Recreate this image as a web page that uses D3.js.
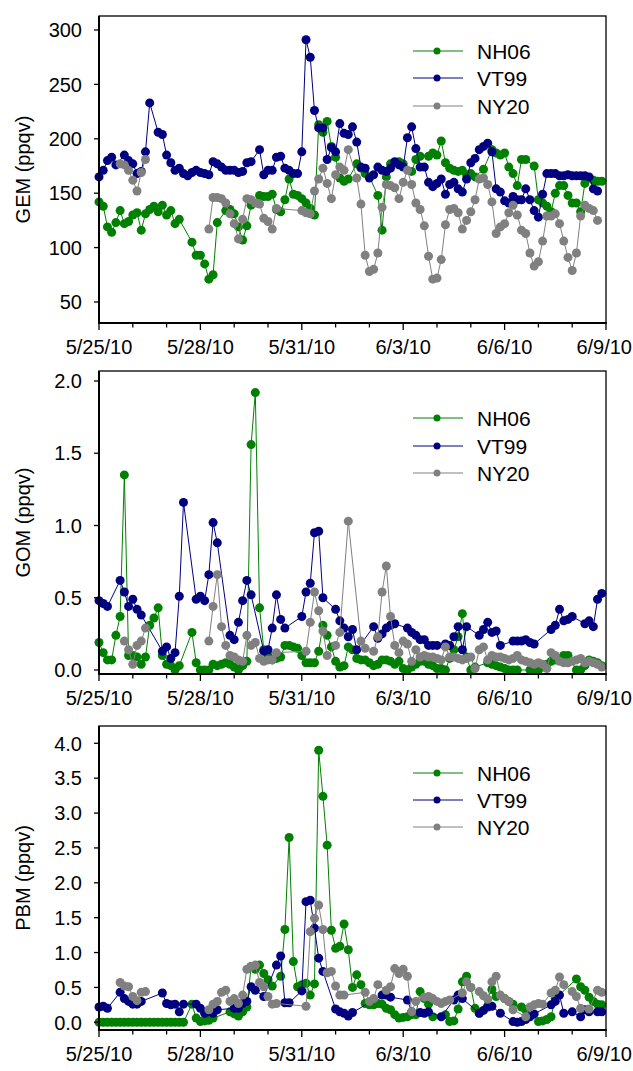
<!DOCTYPE html>
<html><head><meta charset="utf-8">
<script src="https://cdn.jsdelivr.net/npm/d3@7/dist/d3.min.js"></script>
<style>body{margin:0;background:#fff}svg{display:block}text{font-family:"Liberation Sans",Arial,sans-serif;fill:#000}</style>
</head><body>
<svg id="c" width="633" height="1071"></svg>
<script>
// ---------------- data ----------------
const seriesNames = ["NH06", "VT99", "NY20"];
const seriesColors = ["#008000", "#000080", "#808080"];
const startDate = new Date(2010, 4, 25);   // 5/25/10 00:00, first sample
const endDate = new Date(2010, 5, 9);      // 6/9/10
const stepHours = 3;                       // sampling interval of the series
const xTickDates = [new Date(2010,4,25), new Date(2010,4,28), new Date(2010,4,31), new Date(2010,5,3), new Date(2010,5,6), new Date(2010,5,9)];
const xTickLabels = ["5/25/10", "5/28/10", "5/31/10", "6/3/10", "6/6/10", "6/9/10"];
const gemTicks = [50, 100, 150, 200, 250, 300];
const gomTicks = [0.0, 0.5, 1.0, 1.5, 2.0];
const pbmTicks = [0.0, 0.5, 1.0, 1.5, 2.0, 2.5, 3.0, 3.5, 4.0];
const n = null;

const gemNH06 = [142,138,119,114,123,134,122,124,130,132, 116,131,135,138,133,139,130,134,122,126,
  n,n,105,93,93,85,71,75,123,n, 134,135,131,119,107,120,139,n,148,147,
  147,149,135,133,144,163,149,148,145,141, 136,130,213,206,216,193,183,164,161,163,
  n,177,173,168,165,n,148,116,165,177, 178,179,177,n,170,181,184,n,184,187,
  185,198,178,173,171,170,171,167,168,165, n,172,n,190,187,185,187,174,168,157,
  181,181,n,175,144,141,138,133,150,157, 157,148,141,141,133,159,n,162,161,161];
const gemVT99 = [165,171,180,183,176,n,185,180,177,168, 170,188,233,n,206,204,185,178,171,173,
  168,166,169,171,169,168,167,179,177,174, 171,171,171,169,170,178,179,n,190,167,
  171,171,183,184,173,171,168,168,188,291, 275,226,210,210,181,192,188,214,205,204,
  211,197,174,173,164,167,174,171,170,173, 179,176,174,201,211,191,174,174,160,156,
  159,163,149,158,160,154,151,163,178,182, 190,193,196,188,154,151,143,141,147,144,
  144,154,144,134,128,149,168,168,168,166, 166,167,166,166,166,166,165,154,152,n];
const gemNY20 = [n,n,n,n,n,177,176,171,162,152, 169,181,n,n,n,n,n,n,n,n,
  n,n,n,n,n,n,117,146,146,145, 141,131,122,108,126,145,144,141,140,127,
  124,117,136,n,n,n,n,n,134,132, 131,152,163,173,159,145,167,174,171,190,
  n,164,140,93,78,80,95,137,158,157, 155,145,160,171,158,141,135,120,92,71,
  72,89,121,135,136,132,117,125,133,144, 163,164,158,142,113,119,122,132,139,130,
  116,113,95,83,87,106,129,129,131,122, 106,91,79,95,129,139,136,134,125,n];

const gomNH06 = [0.19,0.12,0.07,0.07,0.24,0.37,1.35,0.10,0.10,0.09, 0.04,0.09,0.31,0.36,0.43,0.10,0.04,0.03,0.00,0.03,
  n,n,0.26,0.05,0.00,0.00,0.00,0.04,0.03,0.04, 0.05,0.04,0.02,0.00,0.03,0.06,1.56,1.92,0.43,0.14,
  0.10,0.07,0.08,0.09,0.17,0.17,0.16,0.15,0.10,0.05, 0.05,0.05,0.13,0.31,0.24,0.16,0.06,0.02,0.03,0.16,
  0.14,0.08,0.07,0.07,0.05,0.03,0.04,0.07,0.07,0.06, 0.04,0.06,0.01,0.00,0.02,0.04,0.06,0.06,0.04,0.03,
  0.01,0.01,0.00,0.08,0.14,0.23,0.39,0.09,0.00,0.02, n,n,0.05,0.04,0.03,0.02,0.01,0.00,0.00,0.00,
  n,n,0.00,0.00,0.00,0.02,0.04,0.06,0.07,0.08, 0.10,0.10,n,0.00,0.00,0.03,0.07,0.06,0.05,0.03];
const gomVT99 = [0.48,0.46,0.44,n,n,0.62,0.54,0.44,0.49,0.42, 0.38,n,n,n,n,0.13,0.16,0.08,0.12,0.51,
  1.16,n,n,0.49,0.51,0.48,0.66,1.02,0.88,n, n,0.24,0.21,0.33,0.48,0.62,0.52,n,n,0.13,
  0.14,0.29,0.52,0.35,0.29,n,n,n,0.37,0.54, 0.60,0.95,0.96,0.50,n,n,0.42,0.34,0.29,0.23,
  0.28,0.14,n,n,n,0.30,0.22,0.25,0.29,0.31, 0.32,n,n,0.29,0.26,0.24,0.21,0.21,0.17,0.17,
  0.17,n,0.18,0.17,0.23,0.30,0.14,0.30,n,n, 0.24,0.28,0.33,0.26,0.27,0.17,n,n,0.20,0.20,
  0.20,0.21,0.19,0.18,n,n,n,0.28,0.31,0.42, 0.34,0.35,0.37,n,n,0.32,0.34,0.30,0.49,0.53];
const gomNY20 = [n,n,n,n,n,n,0.20,0.14,0.04,0.17, 0.20,0.29,n,n,n,n,n,n,n,n,
  n,n,n,n,n,n,0.20,0.44,0.66,0.30, 0.17,0.10,0.09,0.07,0.06,0.24,0.17,0.19,0.08,0.06,
  0.07,0.07,0.12,n,n,n,n,n,n,0.13, 0.33,0.54,0.41,0.27,0.10,n,0.17,0.26,n,1.03,
  n,n,0.20,0.15,n,0.13,0.23,0.54,0.72,0.37, 0.17,0.12,0.20,0.18,0.06,0.14,0.09,0.10,0.09,0.09,
  0.08,0.07,0.16,0.09,0.09,0.08,0.07,0.08,0.09,0.01, 0.14,0.16,0.07,0.10,0.09,0.09,0.08,0.07,0.08,0.10,
  0.07,0.06,0.05,0.04,0.05,0.04,0.01,0.12,0.10,0.06, 0.05,0.05,0.06,0.07,0.08,0.05,0.06,0.05,0.04,0.02];

const pbmNH06 = [0,0,0,0,0,0,0,0,0,0, 0,0,0,0,0,0,0,0,0,0,
  0,n,0.26,0.06,0.01,0.02,0.03,0.06,n,n, n,0.15,0.12,0.09,0.15,0.22,0.80,0.76,0.82,0.70,
  0.61,0.52,n,0.66,1.33,2.65,0.87,0.51,0.54,0.56, 0.39,0.55,3.90,3.24,2.54,1.32,1.06,1.09,1.41,1.04,
  0.50,0.68,0.54,0.27,0.25,0.25,0.27,0.26,0.20,0.18, 0.11,0.06,0.07,0.08,0.11,0.11,0.44,0.34,0.26,0.08,
  n,n,0.11,0.01,0.02,0.19,0.58,0.66,0.50,0.20, 0.13,n,n,0.47,0.37,n,0.34,0.30,0.26,n,
  0.22,0.18,n,n,0.01,0.02,0.04,0.08,0.34,n, n,n,n,0.62,0.51,0.46,0.36,0.30,0.26,0.25];
const pbmVT99 = [0.22,0.23,0.20,n,n,0.43,0.34,0.30,0.26,0.26, 0.30,n,n,n,n,0.42,0.27,0.25,0.26,0.15,
  0.26,n,n,0.26,0.20,0.13,0.15,0.13,0.18,n, n,n,0.20,0.20,0.27,0.30,0.51,0.46,n,0.37,
  n,n,0.82,0.95,0.28,0.28,n,n,0.45,1.73, 1.75,1.35,0.92,0.73,n,n,0.19,0.15,0.13,0.09,
  0.14,n,n,n,n,n,n,0.39,0.39,0.36, n,n,n,0.32,0.15,n,0.14,0.13,0.15,n,
  n,0.08,n,n,0.32,0.39,0.34,n,n,n, 0.13,0.17,0.22,0.23,n,0.13,n,n,0.01,0.00,
  0.01,0.04,0.08,0.12,n,n,n,0.25,0.30,0.39, 0.13,n,0.15,n,0.08,0.18,0.15,n,0.15,0.15];
const pbmNY20 = [n,n,n,n,n,0.57,0.52,0.51,0.37,0.31, 0.43,0.44,n,n,n,n,n,n,n,n,
  n,n,n,n,n,n,0.18,0.26,0.30,0.43, 0.46,0.30,0.34,0.27,0.39,0.76,0.80,0.82,0.57,0.51,
  0.37,0.26,0.27,n,n,n,n,n,n,0.23, 1.30,1.49,1.68,1.33,0.71,0.73,0.52,0.39,0.39,n,
  n,n,n,0.43,0.30,0.34,0.54,n,0.46,0.51, 0.77,0.70,0.76,0.66,0.15,0.30,n,0.36,0.37,0.34,
  0.30,0.27,0.30,0.32,n,n,0.42,0.58,0.50,n, 0.44,0.38,0.33,0.58,0.66,0.39,0.34,0.30,0.18,n,
  n,0.08,0.22,0.25,0.27,0.26,n,0.42,0.46,0.65, 0.54,n,0.44,0.37,0.20,n,0.19,n,0.46,0.43];

// ---------------- layout ----------------
const panels = [
  {title: "GEM (ppqv)", series: [gemNH06, gemVT99, gemNY20], ticks: gemTicks, fmt: d3.format("d"),
   box: [16, 323], tickPix: [302, 30], legendY: [51, 78, 106]},
  {title: "GOM (ppqv)", series: [gomNH06, gomVT99, gomNY20], ticks: gomTicks, fmt: d3.format(".1f"),
   box: [371, 674], tickPix: [670, 381], legendY: [418, 446, 473]},
  {title: "PBM (ppqv)", series: [pbmNH06, pbmVT99, pbmNY20], ticks: pbmTicks, fmt: d3.format(".1f"),
   box: [726, 1030], tickPix: [1022.3, 743.3], legendY: [773, 800, 827]}
];
const left = 99, right = 606, fontSize = 20, legendFont = 21;
const svg = d3.select("#c");
const x = d3.scaleTime().domain([startDate, endDate]).range([left, right]);
const tAt = i => new Date(startDate.getTime() + i * stepHours * 3600e3);
const maxGap = 8;

panels.forEach(p => {
  const [top, bottom] = p.box;
  const y = d3.scaleLinear().domain([p.ticks[0], p.ticks[p.ticks.length - 1]]).range(p.tickPix);
  const g = svg.append("g");

  // series
  p.series.forEach((vals, si) => {
    const pts = vals.map((v, i) => ({i, v})).filter(d => d.v !== null);
    const segs = [];
    pts.forEach((d, k) => {
      if (k === 0 || d.i - pts[k - 1].i > maxGap) segs.push([]);
      segs[segs.length - 1].push(d);
    });
    const line = d3.line().x(d => x(tAt(d.i))).y(d => y(d.v));
    segs.forEach(s => g.append("path").attr("d", line(s)).attr("fill", "none")
      .attr("stroke", seriesColors[si]).attr("stroke-width", 1));
    g.selectAll(null).data(pts).enter().append("circle")
      .attr("cx", d => x(tAt(d.i))).attr("cy", d => y(d.v)).attr("r", 4.5)
      .attr("fill", seriesColors[si]);
  });

  // frame
  g.append("rect").attr("x", left).attr("y", top).attr("width", right - left).attr("height", bottom - top)
    .attr("fill", "none").attr("stroke", "#000").attr("stroke-width", 1.3);
  g.append("line").attr("x1", left).attr("x2", left).attr("y1", top).attr("y2", bottom + 1)
    .attr("stroke", "#000").attr("stroke-width", 2);
  g.append("line").attr("x1", left - 1).attr("x2", right + 0.7).attr("y1", bottom).attr("y2", bottom)
    .attr("stroke", "#000").attr("stroke-width", 2);

  // y axis ticks + labels
  p.ticks.forEach(t => {
    g.append("line").attr("x1", left - 5).attr("x2", left).attr("y1", y(t)).attr("y2", y(t))
      .attr("stroke", "#000").attr("stroke-width", 1.3);
    g.append("text").attr("x", 82).attr("y", y(t)).attr("dy", "0.36em").attr("text-anchor", "end")
      .attr("font-size", fontSize).text(p.fmt(t));
  });
  // x ticks
  x.ticks(d3.timeDay.every(1)).forEach(d => {
    const major = xTickDates.some(t => +t === +d);
    g.append("line").attr("x1", x(d)).attr("x2", x(d)).attr("y1", bottom).attr("y2", bottom + (major ? 7 : 4.5))
      .attr("stroke", "#000").attr("stroke-width", 1.3);
  });
  xTickDates.forEach((d, k) => {
    const last = k === xTickDates.length - 1;
    g.append("text").attr("x", last ? 632 : x(d)).attr("y", bottom + 24).attr("dy", "0.36em")
      .attr("text-anchor", last ? "end" : "middle")
      .attr("font-size", fontSize).text(xTickLabels[k]);
  });
  // y title
  g.append("text").attr("transform", `translate(23,${(top + bottom) / 2}) rotate(-90)`)
    .attr("dy", "0.36em").attr("text-anchor", "middle").attr("font-size", fontSize).text(p.title);

  // legend
  seriesNames.forEach((name, si) => {
    const ly = p.legendY[si];
    g.append("line").attr("x1", 413).attr("x2", 463).attr("y1", ly).attr("y2", ly)
      .attr("stroke", seriesColors[si]).attr("stroke-width", 1);
    g.append("circle").attr("cx", 437).attr("cy", ly).attr("r", 3.5).attr("fill", seriesColors[si]);
    g.append("text").attr("x", 477).attr("y", ly).attr("dy", "0.36em").attr("font-size", legendFont).text(name);
  });
});
</script>
</body></html>
